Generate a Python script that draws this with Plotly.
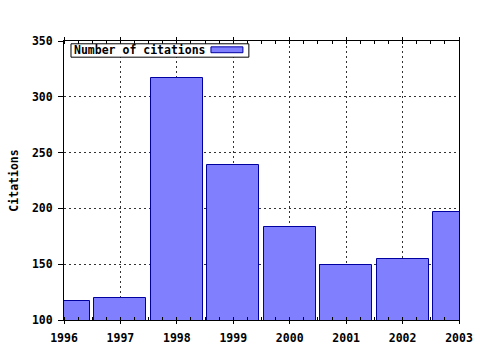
import plotly.graph_objects as go

years = [1996, 1997, 1998, 1999, 2000, 2001, 2002, 2003]
citations = [117, 120, 317, 239, 183, 149, 155, 197]
series_name = "Number of citations"
y_ticks = [100, 150, 200, 250, 300, 350]

FONT = "DejaVu Sans Mono"
fill = "#8080FF"
edge = "#0000A0"

fig = go.Figure()
fig.add_trace(go.Bar(
    x=years, y=citations, name=series_name, width=0.92,
    marker=dict(color=fill, line=dict(color=edge, width=1)),
    showlegend=False,
))

# legend box (swatch on the right, like the reference)
fig.add_shape(type="rect", xref="paper", yref="paper",
              x0=0.0177, x1=0.468, y0=0.942, y1=0.990,
              line=dict(color="black", width=1), fillcolor="white", layer="above")
fig.add_shape(type="rect", xref="paper", yref="paper",
              x0=0.372, x1=0.453, y0=0.958, y1=0.979,
              line=dict(color=edge, width=1), fillcolor=fill, layer="above")
fig.add_annotation(xref="paper", yref="paper", x=0.020, y=0.966,
                   xanchor="left", yanchor="middle", showarrow=False,
                   text=series_name,
                   font=dict(family=FONT, size=11.5, color="black", weight="bold"))

fig.update_layout(
    width=480, height=350,
    margin=dict(l=64, r=21, t=41, b=30, pad=0),
    paper_bgcolor="white", plot_bgcolor="white",
    bargap=0,
    font=dict(family=FONT, size=11, color="black"),
)
fig.update_xaxes(
    automargin=False,
    range=[1996, 2003], tickmode="array", tickvals=years,
    ticktext=[str(y) for y in years],
    tickfont=dict(family=FONT, size=11.5, color="black", weight="bold"),
    ticklabelstandoff=4,
    showline=True, linecolor="black", linewidth=1, mirror="ticks",
    ticks="outside", ticklen=3, tickcolor="black",
    showgrid=True, gridcolor="#333333", griddash="2px,3px", gridwidth=1,
    minor=dict(ticks="inside", dtick=0.25, tick0=1996, ticklen=3, tickcolor="black", showgrid=False),
    zeroline=False,
)
fig.update_yaxes(
    automargin=False,
    range=[100, 350], tickmode="array", tickvals=y_ticks,
    tickfont=dict(family=FONT, size=11.5, color="black", weight="bold"),
    ticklabelstandoff=3,
    showline=True, linecolor="black", linewidth=1, mirror=True,
    ticks="outside", ticklen=5, tickcolor="black",
    showgrid=True, gridcolor="#333333", griddash="2px,3px", gridwidth=1,
    zeroline=False,
    title=dict(text="Citations", standoff=10,
               font=dict(family=FONT, size=11.5, color="black", weight="bold")),
)

fig.write_html("out.html")
